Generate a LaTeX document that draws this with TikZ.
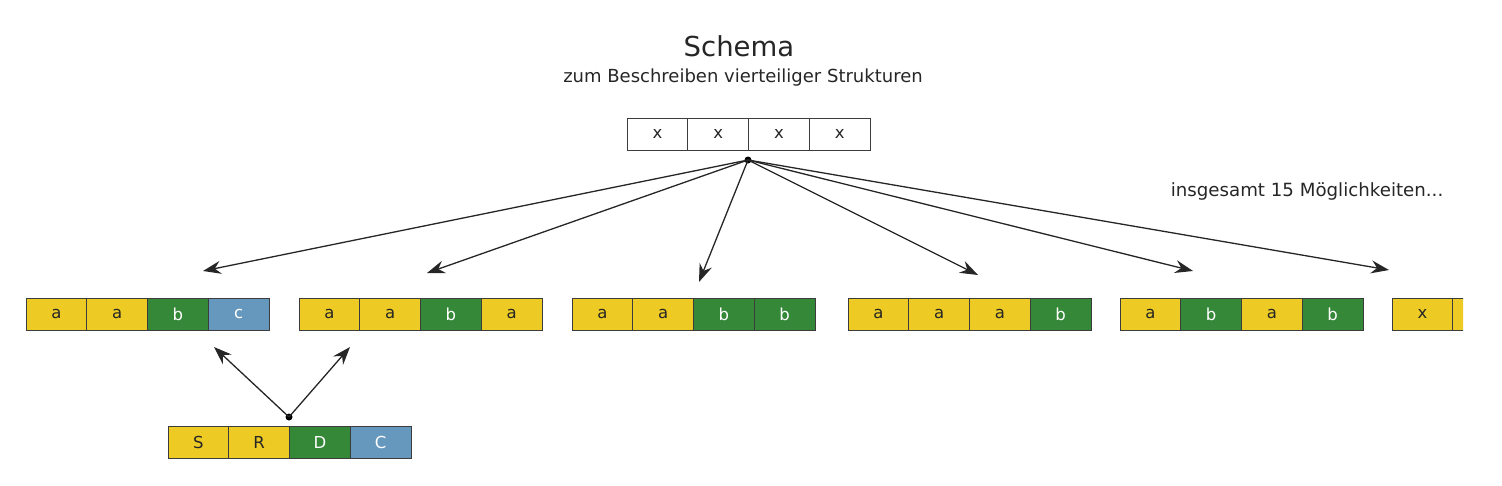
\documentclass[tikz,border=0pt]{standalone}
\usepackage{fontspec}
\setmainfont{DejaVu Sans}
\usetikzlibrary{arrows.meta}
\definecolor{cy}{RGB}{237,203,36}
\definecolor{cg}{RGB}{52,136,56}
\definecolor{cb}{RGB}{102,152,190}
\definecolor{edge}{RGB}{60,60,60}
\tikzset{
  cell/.style={draw=edge,line width=1pt,minimum width=60.75pt,minimum height=32pt,inner sep=0pt,font=\fontsize{16.5}{18}\selectfont},
  Y/.style={fill=cy,text=black!85},
  G/.style={fill=cg,text=white},
  B/.style={fill=cb,text=white},
  W/.style={fill=white,text=black!85},
  arr/.style={line width=1.3pt,-{Stealth[length=18pt,width=13pt,inset=6pt]},black!85},
  hub/.style={circle,fill=black,inner sep=0pt,minimum size=7pt}
}
\newcommand\myrow[4]{%
  \foreach [count=\i] \t/\c in {#4}
    \node[cell,\c] (#1\i) at ({#2+60.75*\i-30.375},#3) {\t};%
}
\begin{document}
\begin{tikzpicture}[x=1pt,y=-1pt]
\useasboundingbox (0,0) rectangle (1502,485);
\node[font=\fontsize{27.5}{32}\selectfont,text=black!85] (title) at (739,46) {Schema};
\node[font=\fontsize{18}{21}\selectfont,text=black!85] (sub) at (743,78) {zum Beschreiben vierteiliger Strukturen};
\node[font=\fontsize{18.2}{21}\selectfont,text=black!85] (note) at (1307,191) {insgesamt 15 Möglichkeiten...};
\myrow{t}{627}{134}{x/W,x/W,x/W,x/W}
\myrow{r}{26}{314}{a/Y,a/Y,b/G,c/B}
\myrow{s}{299}{314}{a/Y,a/Y,b/G,a/Y}
\myrow{u}{572}{314}{a/Y,a/Y,b/G,b/G}
\myrow{v}{848}{314}{a/Y,a/Y,a/Y,b/G}
\myrow{w}{1120}{314}{a/Y,b/G,a/Y,b/G}
\begin{scope}
\clip (1380,290) rectangle (1463,340);
\myrow{z}{1392}{314}{x/Y,/Y}
\end{scope}
\myrow{q}{168}{442}{S/Y,R/Y,D/G,C/B}
\node[hub] (h1) at (748,160) {};
\node[hub] (h2) at (289,417) {};
\coordinate (e1) at (203,271);
\coordinate (e2) at (427,273);
\coordinate (e3) at (699,282);
\coordinate (e4) at (978,275);
\coordinate (e5) at (1193,271);
\coordinate (e6) at (1389,270);
\coordinate (f1) at (214,347);
\coordinate (f2) at (350,347);
\foreach \e in {e1,e2,e3,e4,e5,e6} \draw[arr] (h1.center) -- (\e);
\foreach \e in {f1,f2} \draw[arr] (h2.center) -- (\e);
\end{tikzpicture}
\end{document}
